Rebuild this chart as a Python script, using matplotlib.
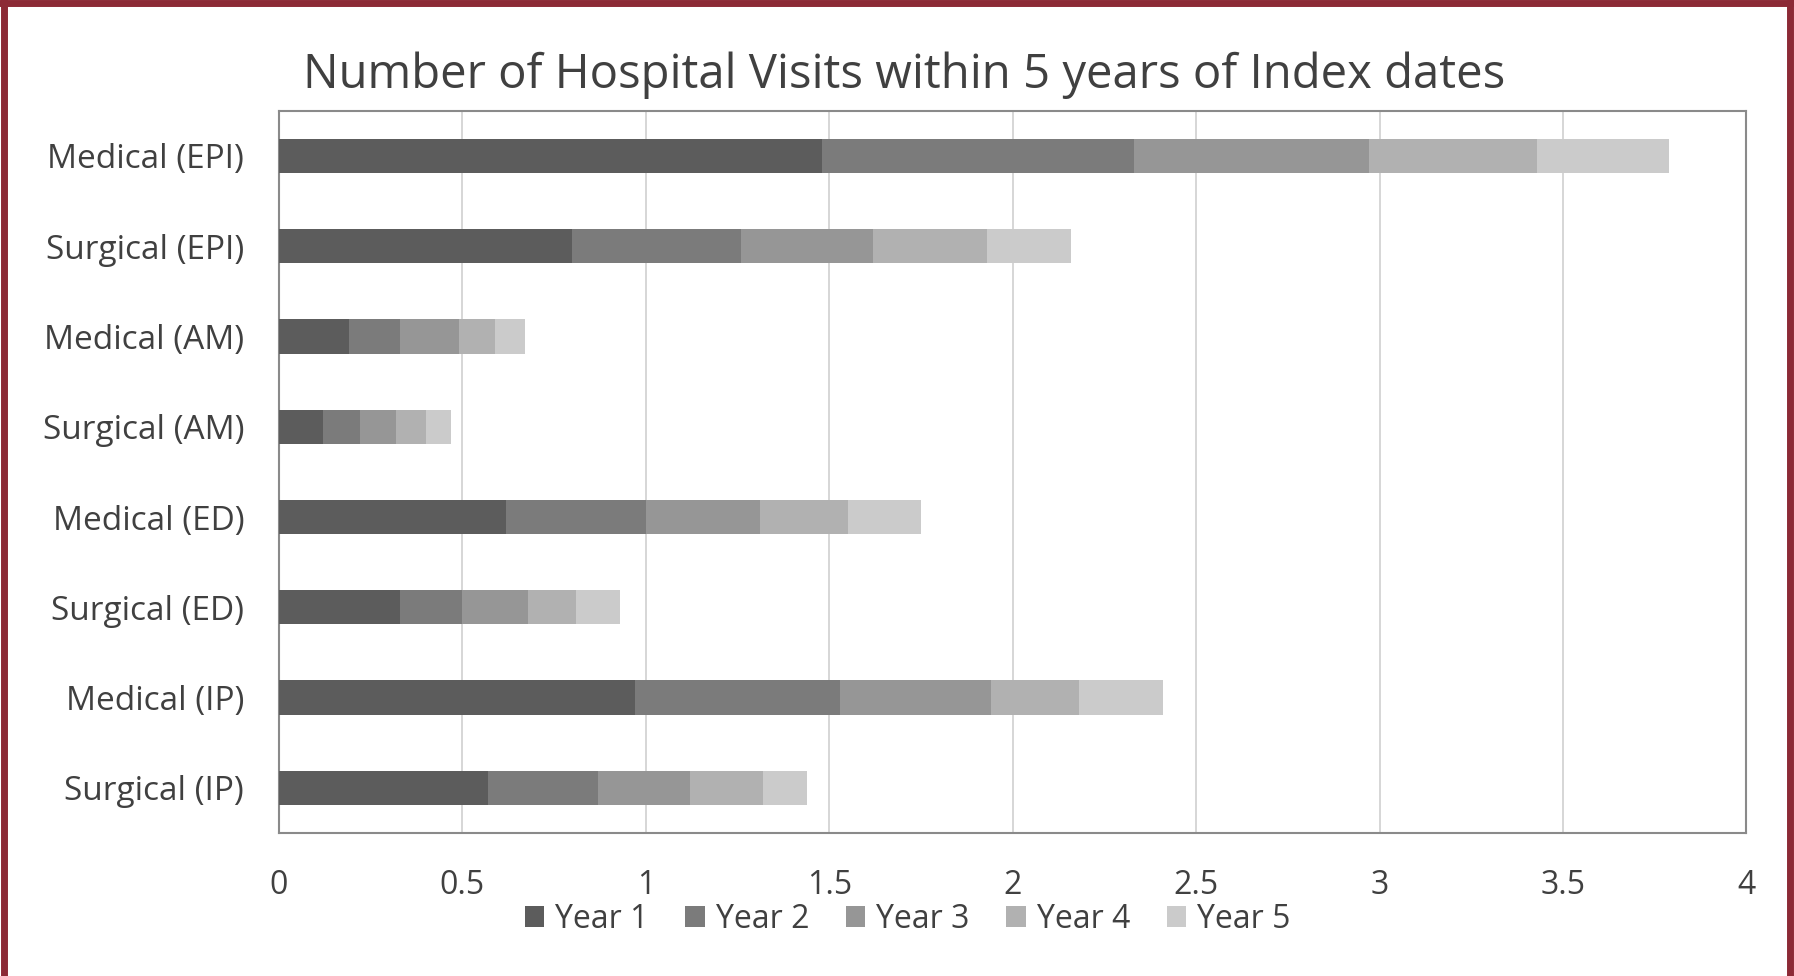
import numpy as np
import matplotlib.pyplot as plt
from matplotlib.lines import Line2D

# categories top to bottom
categories = ["Medical (EPI)", "Surgical (EPI)", "Medical (AM)", "Surgical (AM)",
              "Medical (ED)", "Surgical (ED)", "Medical (IP)", "Surgical (IP)"]
series_names = ["Year 1", "Year 2", "Year 3", "Year 4", "Year 5"]

year1 = [1.48, 0.80, 0.19, 0.12, 0.62, 0.33, 0.97, 0.57]
year2 = [0.85, 0.46, 0.14, 0.10, 0.38, 0.17, 0.56, 0.30]
year3 = [0.64, 0.36, 0.16, 0.10, 0.31, 0.18, 0.41, 0.25]
year4 = [0.46, 0.31, 0.10, 0.08, 0.24, 0.13, 0.24, 0.20]
year5 = [0.36, 0.23, 0.08, 0.07, 0.20, 0.12, 0.23, 0.12]

colors = ["#5c5c5c", "#7b7b7b", "#969696", "#b1b1b1", "#cbcbcb"]

plt.rcParams["font.family"] = ["Open Sans", "DejaVu Sans"]

fig = plt.figure(figsize=(17.94, 9.76), dpi=100)
ax = fig.add_axes([0.1555, 0.1465, 0.818, 0.74])

y = np.arange(len(categories))
left = np.zeros(len(categories))
for name, vals, c in zip(series_names, [year1, year2, year3, year4, year5], colors):
    ax.barh(y, vals, left=left, height=0.38, color=c, label=name, zorder=3)
    left += np.array(vals)

ax.set_ylim(len(categories) - 0.5, -0.5)
ax.set_yticks(y)
ax.set_yticklabels(categories, fontsize=24, color="#404040")
ax.set_xlim(0, 4)
ax.set_xticks(np.arange(0, 4.01, 0.5))
ax.set_xticklabels(["0", "0.5", "1", "1.5", "2", "2.5", "3", "3.5", "4"],
                   fontsize=23, color="#404040")
ax.tick_params(axis="x", length=0, pad=26)
ax.tick_params(axis="y", length=0, pad=25)
ax.grid(axis="x", color="#d0d0d0", linewidth=1.2, zorder=0)
for s in ax.spines.values():
    s.set_color("#8a8a8a")
    s.set_linewidth(1.5)

fig.text(0.504, 0.923, "Number of Hospital Visits within 5 years of Index dates",
         ha="center", va="center", fontsize=34, color="#404040")

fig.legend(loc="center", bbox_to_anchor=(0.506, 0.058), ncol=5, frameon=False,
           fontsize=23, handlelength=0.6, handleheight=0.6, handletextpad=0.35,
           columnspacing=1.15, labelcolor="#404040")

# maroon frame around the figure
red = "#8c2a36"
fig.add_artist(Line2D([0.002, 0.002], [0, 1], color=red, lw=5, transform=fig.transFigure))
fig.add_artist(Line2D([0, 1], [0.997, 0.997], color=red, lw=5, transform=fig.transFigure))
fig.add_artist(Line2D([0.998, 0.998], [0, 1], color=red, lw=5, transform=fig.transFigure))

fig.savefig("out.png", dpi=100)
